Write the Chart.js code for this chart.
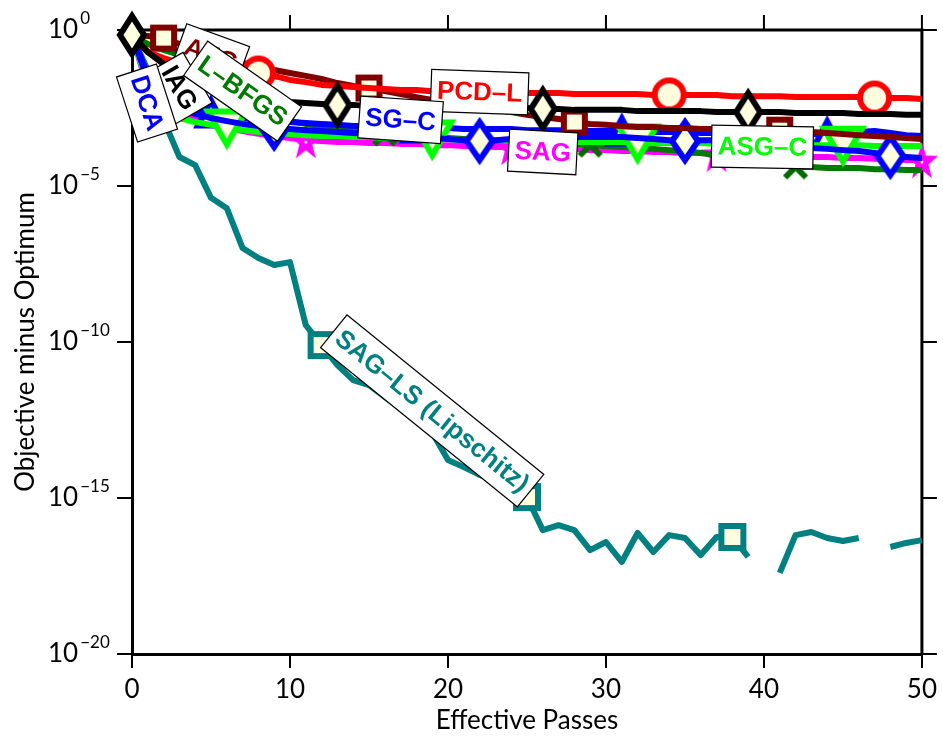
<!DOCTYPE html>
<html>
<head>
<meta charset="utf-8">
<script src="https://cdn.jsdelivr.net/npm/chart.js@4.4.1/dist/chart.umd.min.js"></script>
<style>
  html, body { margin: 0; padding: 0; background: #fff; }
</style>
</head>
<body>
<canvas id="chart" width="943" height="739"></canvas>
<script>
// x categories (effective passes) and axis ticks
const passes = [0,1,2,3,4,5,6,7,8,9,10,11,12,13,14,15,16,17,18,19,20,21,22,23,24,25,
  26,27,28,29,30,31,32,33,34,35,36,37,38,39,40,41,42,43,44,45,46,47,48,49,50];
const xTicks = [0, 10, 20, 30, 40, 50];
const yTickExps = [-20, -15, -10, -5, 0];

// log10(objective minus optimum)
const iag = [-0.16,-0.71,-1.09,-1.38,-1.60,-1.79,-1.92,-2.05,-2.18,-2.24,-2.31,-2.34,-2.37,-2.40,-2.40,-2.44,-2.44,-2.44,-2.47,-2.47,-2.47,-2.47,-2.50,-2.50,-2.50,-2.50,
  -2.53,-2.53,-2.56,-2.56,-2.56,-2.56,-2.60,-2.60,-2.60,-2.60,-2.60,-2.63,-2.63,-2.63,-2.63,-2.63,-2.66,-2.66,-2.66,-2.66,-2.69,-2.69,-2.69,-2.72,-2.72];
const pcdl = [-0.16,-0.71,-0.90,-1.06,-1.15,-1.22,-1.25,-1.31,-1.38,-1.47,-1.60,-1.67,-1.76,-1.79,-1.83,-1.86,-1.89,-1.92,-1.92,-1.96,-1.96,-1.99,-1.99,-1.99,-2.02,-2.02,
  -2.02,-2.02,-2.05,-2.05,-2.05,-2.05,-2.05,-2.08,-2.08,-2.08,-2.08,-2.08,-2.12,-2.12,-2.12,-2.12,-2.15,-2.15,-2.15,-2.15,-2.15,-2.18,-2.18,-2.18,-2.21];
const afg = [-0.16,-0.19,-0.26,-0.45,-0.64,-0.80,-0.93,-1.06,-1.15,-1.28,-1.38,-1.47,-1.57,-1.70,-1.79,-1.86,-1.96,-2.05,-2.15,-2.24,-2.34,-2.40,-2.50,-2.56,-2.63,-2.72,
  -2.79,-2.85,-2.95,-3.01,-3.04,-3.08,-3.11,-3.11,-3.14,-3.14,-3.17,-3.17,-3.17,-3.21,-3.21,-3.21,-3.24,-3.27,-3.30,-3.33,-3.37,-3.40,-3.43,-3.46,-3.49];
const sgc = [-0.16,-1.60,-2.18,-2.50,-2.69,-2.82,-2.92,-3.01,-3.08,-3.14,-3.17,-3.21,-3.24,-3.27,-3.30,-3.33,-3.37,-3.40,-3.43,-3.46,-3.49,-3.53,-3.56,-3.53,-3.49,-3.46,
  -3.46,-3.46,-3.43,-3.43,-3.43,-3.43,-3.46,-3.49,-3.53,-3.56,-3.53,-3.53,-3.56,-3.59,-3.65,-3.72,-3.75,-3.78,-3.81,-3.85,-3.88,-3.94,-4.04,-4.07,-4.10];
const asgc = [-0.16,-1.76,-2.50,-2.82,-2.95,-3.04,-3.14,-3.21,-3.27,-3.30,-3.33,-3.37,-3.40,-3.40,-3.43,-3.43,-3.46,-3.46,-3.49,-3.49,-3.49,-3.53,-3.53,-3.53,-3.56,-3.56,
  -3.56,-3.56,-3.59,-3.59,-3.59,-3.59,-3.62,-3.62,-3.62,-3.62,-3.62,-3.65,-3.65,-3.65,-3.65,-3.65,-3.69,-3.69,-3.69,-3.69,-3.69,-3.72,-3.72,-3.72,-3.72];
const dca = [-0.16,-1.44,-1.99,-2.31,-2.50,-2.66,-2.76,-2.82,-2.88,-2.92,-2.95,-2.98,-3.01,-3.04,-3.08,-3.08,-3.11,-3.11,-3.14,-3.14,-3.14,-3.17,-3.17,-3.17,-3.17,-3.21,
  -3.21,-3.21,-3.21,-3.24,-3.24,-3.24,-3.24,-3.27,-3.27,-3.27,-3.30,-3.30,-3.30,-3.30,-3.33,-3.33,-3.33,-3.33,-3.33,-3.33,-3.27,-3.24,-3.30,-3.37,-3.40];
const lbfgs = [-0.16,-0.45,-0.64,-0.80,-1.09,-1.54,-1.99,-2.37,-2.63,-2.79,-2.92,-3.01,-3.08,-3.14,-3.21,-3.27,-3.33,-3.37,-3.40,-3.43,-3.46,-3.49,-3.53,-3.56,-3.56,-3.59,
  -3.62,-3.62,-3.65,-3.69,-3.72,-3.75,-3.78,-3.81,-3.85,-3.88,-3.94,-4.01,-4.07,-4.13,-4.23,-4.33,-4.39,-4.39,-4.42,-4.42,-4.42,-4.46,-4.46,-4.49,-4.49];
const sag = [-0.16,-1.86,-2.37,-2.69,-2.88,-3.04,-3.14,-3.24,-3.33,-3.40,-3.46,-3.53,-3.56,-3.59,-3.59,-3.62,-3.62,-3.65,-3.65,-3.69,-3.69,-3.72,-3.72,-3.75,-3.75,-3.78,
  -3.78,-3.81,-3.81,-3.85,-3.85,-3.88,-3.88,-3.91,-3.91,-3.94,-3.94,-3.97,-3.97,-4.01,-4.01,-4.04,-4.04,-4.07,-4.07,-4.10,-4.10,-4.13,-4.13,-4.17,-4.17];
const sagLs = [-0.16,-1.30,-2.88,-4.07,-4.33,-5.38,-5.71,-6.99,-7.31,-7.53,-7.44,-9.46,-10.10,-10.74,-11.22,-11.38,-11.76,-12.10,-12.50,-12.90,-13.78,-14.01,-14.26,-14.42,-14.68,-14.97,
  -16.03,-15.87,-16.03,-16.67,-16.41,-17.05,-16.12,-16.73,-16.19,-16.28,-16.83,-16.25,-16.25,-16.89,null,-17.40,-16.19,-16.09,-16.28,-16.38,-16.28,null,-16.57,-16.44,-16.35];

const CREAM = '#FFFFE0';

// marker glyphs drawn once on small canvases
function makeMarker(shape, color, w, h) {
  const pad = 8;
  const c = document.createElement('canvas');
  c.width = w + pad * 2;
  c.height = h + pad * 2;
  const g = c.getContext('2d');
  g.translate(c.width / 2, c.height / 2);
  const lw = 6;
  const hw = w / 2 - lw / 2, hh = h / 2 - lw / 2;
  g.lineWidth = lw;
  g.strokeStyle = color;
  g.fillStyle = CREAM;
  g.beginPath();
  if (shape === 'square') {
    g.rect(-hw, -hh, 2 * hw, 2 * hh);
  } else if (shape === 'circle') {
    g.ellipse(0, 0, hw, hh, 0, 0, Math.PI * 2);
  } else if (shape === 'diamond') {
    g.moveTo(0, -hh); g.lineTo(hw, 0); g.lineTo(0, hh); g.lineTo(-hw, 0); g.closePath();
  } else if (shape === 'triUp') {
    g.moveTo(0, -hh); g.lineTo(hw, hh); g.lineTo(-hw, hh); g.closePath();
  } else if (shape === 'triDown') {
    g.moveTo(-hw, -hh); g.lineTo(hw, -hh); g.lineTo(0, hh); g.closePath();
  } else if (shape === 'star') {
    for (let k = 0; k < 10; k++) {
      const a = -Math.PI / 2 + k * Math.PI / 5;
      const r = k % 2 === 0 ? 1 : 0.4;
      const px = Math.cos(a) * r * (w / 2), py = Math.sin(a) * r * (h / 2) + h * 0.05;
      if (k === 0) g.moveTo(px, py); else g.lineTo(px, py);
    }
    g.closePath();
    g.fillStyle = color;
    g.fill();
    g.beginPath();
    g.arc(0, h * 0.05, 1.5, 0, Math.PI * 2);
    g.fillStyle = '#fff';
    g.fill();
    return c;
  } else if (shape === 'cross') {
    g.lineWidth = 6;
    g.moveTo(-w / 2, -h / 2); g.lineTo(w / 2, h / 2);
    g.moveTo(w / 2, -h / 2); g.lineTo(-w / 2, h / 2);
    g.stroke();
    return c;
  }
  g.fill();
  g.stroke();
  return c;
}

// first entry is drawn on top
const series = [
  { name: 'IAG', data: iag, color: '#000000', marker: makeMarker('diamond', '#000000', 30, 44), idx: [0, 13, 26, 39] },
  { name: 'PCD-L', data: pcdl, color: '#FF0000', marker: makeMarker('circle', '#FF0000', 35, 35), idx: [8, 21, 34, 47] },
  { name: 'AFG', data: afg, color: '#800000', marker: makeMarker('square', '#800000', 27, 27), idx: [2, 15, 28, 41] },
  { name: 'SG-C', data: sgc, color: '#0000FF', marker: makeMarker('diamond', '#0000FF', 32, 44), idx: [9, 22, 35, 48] },
  { name: 'ASG-C', data: asgc, color: '#00FF00', marker: makeMarker('triDown', '#00FF00', 44, 39), idx: [6, 19, 32, 45] },
  { name: 'DCA', data: dca, color: '#0000FF', marker: makeMarker('triUp', '#0000FF', 32, 31), idx: [5, 18, 31, 44] },
  { name: 'L-BFGS', data: lbfgs, color: '#007A00', marker: makeMarker('cross', '#006A00', 21, 21), idx: [3, 16, 29, 42] },
  { name: 'SAG', data: sag, color: '#FF00FF', marker: makeMarker('star', '#FF00FF', 34, 40), idx: [11, 24, 37, 50] },
  { name: 'SAG-LS (Lipschitz)', data: sagLs, color: '#008080', marker: makeMarker('square', '#008080', 28, 28), idx: [12, 25, 38] }
];

// in-plot labels: anchor in data units (x, log10 y), rotation in degrees
const annotations = [
  { text: 'AFG', color: '#800000', x: 5.0, ly: -0.80, rot: 20 },
  { text: 'IAG', color: '#000000', x: 3.0, ly: -1.86, rot: 60 },
  { text: 'DCA', color: '#0000FF', x: 0.95, ly: -2.34, rot: 72 },
  { text: 'L\u2013BFGS', color: '#007A00', x: 7.0, ly: -1.96, rot: 35 },
  { text: 'PCD\u2013L', color: '#FF0000', x: 22.0, ly: -1.99, rot: 2 },
  { text: 'SG\u2013C', color: '#0000FF', x: 17.0, ly: -2.88, rot: 4 },
  { text: 'SAG', color: '#FF00FF', x: 26.0, ly: -3.91, rot: 3 },
  { text: 'ASG\u2013C', color: '#00FF00', x: 39.9, ly: -3.75, rot: 1 },
  { text: 'SAG\u2013LS (Lipschitz)', color: '#008080', x: 19.0, ly: -12.21, rot: 39 }
];

const datasets = series.map(s => ({
  label: s.name,
  data: passes.map((p, i) => ({ x: p, y: s.data[i] === null ? null : Math.pow(10, s.data[i]) })),
  borderColor: s.color,
  backgroundColor: s.color,
  borderWidth: 6,
  borderJoinStyle: 'round',
  tension: 0,
  spanGaps: false,
  clip: false,
  pointStyle: s.marker,
  pointRadius: ctx => s.idx.includes(ctx.dataIndex) ? 14 : 0,
  pointHoverRadius: 0
}));

const AXIS_FONT = { family: 'Lato', size: 26 };

const framePlugin = {
  id: 'frame',
  beforeDatasetsDraw(chart) {
    const { ctx, chartArea: a, scales } = chart;
    ctx.save();
    ctx.strokeStyle = '#000';
    ctx.lineWidth = 3;
    ctx.beginPath();
    ctx.moveTo(a.left, a.top); ctx.lineTo(a.right, a.top); ctx.lineTo(a.right, a.bottom);
    ctx.stroke();
    ctx.lineWidth = 2;
    ctx.beginPath();
    xTicks.forEach(v => {
      const px = scales.x.getPixelForValue(v);
      ctx.moveTo(px, a.top); ctx.lineTo(px, a.top - 15);
    });
    yTickExps.forEach(e => {
      const py = scales.y.getPixelForValue(Math.pow(10, e));
      ctx.moveTo(a.right, py); ctx.lineTo(a.right + 15, py);
    });
    ctx.stroke();
    ctx.restore();
  },
  afterDatasetsDraw(chart) {
    const { ctx, scales } = chart;
    ctx.save();
    annotations.forEach(n => {
      const px = scales.x.getPixelForValue(n.x);
      const py = scales.y.getPixelForValue(Math.pow(10, n.ly));
      ctx.save();
      ctx.translate(px, py);
      ctx.rotate(n.rot * Math.PI / 180);
      ctx.font = 'bold 26px "Liberation Sans", Arial, sans-serif';
      const w = ctx.measureText(n.text).width + 12;
      const h = 42;
      ctx.fillStyle = '#fff';
      ctx.fillRect(-w / 2, -h / 2, w, h);
      ctx.strokeStyle = '#000';
      ctx.lineWidth = 1.2;
      ctx.strokeRect(-w / 2, -h / 2, w, h);
      ctx.fillStyle = n.color;
      ctx.textAlign = 'center';
      ctx.textBaseline = 'middle';
      ctx.fillText(n.text, 0, 1);
      ctx.restore();
    });
    ctx.restore();
  },
  afterDraw(chart) {
    // y tick labels as 10 with superscript exponent
    const { ctx, scales } = chart;
    ctx.save();
    ctx.fillStyle = '#000';
    ctx.textBaseline = 'middle';
    yTickExps.forEach(e => {
      const py = scales.y.getPixelForValue(Math.pow(10, e));
      ctx.font = '26px Lato';
      ctx.fillText('10', 48, py);
      const w = ctx.measureText('10').width;
      ctx.font = '17px Lato';
      ctx.fillText(e === 0 ? '0' : '\u2212' + Math.abs(e), 48 + w + 2, py - 11);
    });
    ctx.restore();
  }
};

new Chart(document.getElementById('chart'), {
  type: 'line',
  data: { datasets },
  options: {
    responsive: false,
    animation: false,
    layout: { padding: { top: 30, right: 16, left: 0, bottom: 0 } },
    plugins: { legend: { display: false }, tooltip: { enabled: false } },
    scales: {
      x: {
        type: 'linear',
        min: 0,
        max: 50,
        afterBuildTicks: axis => { axis.ticks = xTicks.map(v => ({ value: v })); },
        ticks: { font: AXIS_FONT, color: '#000', padding: 6, maxRotation: 0 },
        grid: { drawOnChartArea: false, tickLength: 14, color: '#000', lineWidth: 2 },
        border: { color: '#000', width: 3 },
        title: { display: true, text: 'Effective Passes', font: AXIS_FONT, color: '#000', padding: { top: 0, bottom: 3 } },
        afterFit: axis => { axis.height = 85; }
      },
      y: {
        type: 'logarithmic',
        min: 1e-20,
        max: 1,
        afterBuildTicks: axis => { axis.ticks = yTickExps.map(e => ({ value: Math.pow(10, e) })); },
        ticks: { callback: () => '', autoSkip: false },
        grid: { drawOnChartArea: false, tickLength: 15, color: '#000', lineWidth: 2 },
        border: { color: '#000', width: 3 },
        title: { display: true, text: 'Objective minus Optimum', font: AXIS_FONT, color: '#000', padding: { top: 10, bottom: 0 } },
        afterFit: axis => { axis.width = 132; }
      }
    }
  },
  plugins: [framePlugin]
});
</script>
</body>
</html>
